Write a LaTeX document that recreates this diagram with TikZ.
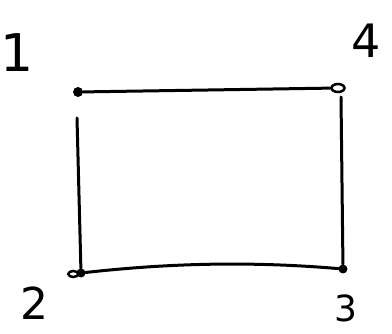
\documentclass[tikz,border=0pt]{standalone}
\usepackage{fontspec}
\setmainfont{DejaVu Sans}
\usetikzlibrary{shapes.geometric}
\begin{document}
\begin{tikzpicture}[x=1pt,y=-1pt,
  edge/.style={line width=3pt, line cap=round, black},
  lbl/.style={font=\fontsize{#1}{#1}\selectfont, inner sep=0pt, text=black, anchor=base},
  cornerdot/.style={circle, fill=black, inner sep=0pt, minimum size=#1}]
\useasboundingbox (0,0) rectangle (392,334);
\node[cornerdot=10pt] (c1) at (78,92) {};
\node[draw, line width=2.5pt, ellipse, minimum width=13pt, minimum height=8pt, inner sep=0pt] (c4) at (338,88) {};
\node[cornerdot=9pt] (c2) at (81,273) {};
\node[cornerdot=9pt] (c3) at (343,269) {};
\coordinate (l1) at (77,118);
\coordinate (r1) at (341,97);
\draw[edge] (c1) -- (c4);
\draw[edge] (l1) -- (c2);
\draw[edge] (c2) .. controls (180,262) and (260,262) .. (c3);
\draw[edge] (r1) -- (c3);
\draw[line width=2.5pt] (c2.west) ++(-3,1) ellipse (5pt and 3pt);
\node[lbl=52] (n1) at (17,72) {1};
\node[lbl=46] (n4) at (366,58) {4};
\node[lbl=44] (n2) at (34,320) {2};
\node[lbl=36] (n3) at (346,322) {3};
\end{tikzpicture}
\end{document}
